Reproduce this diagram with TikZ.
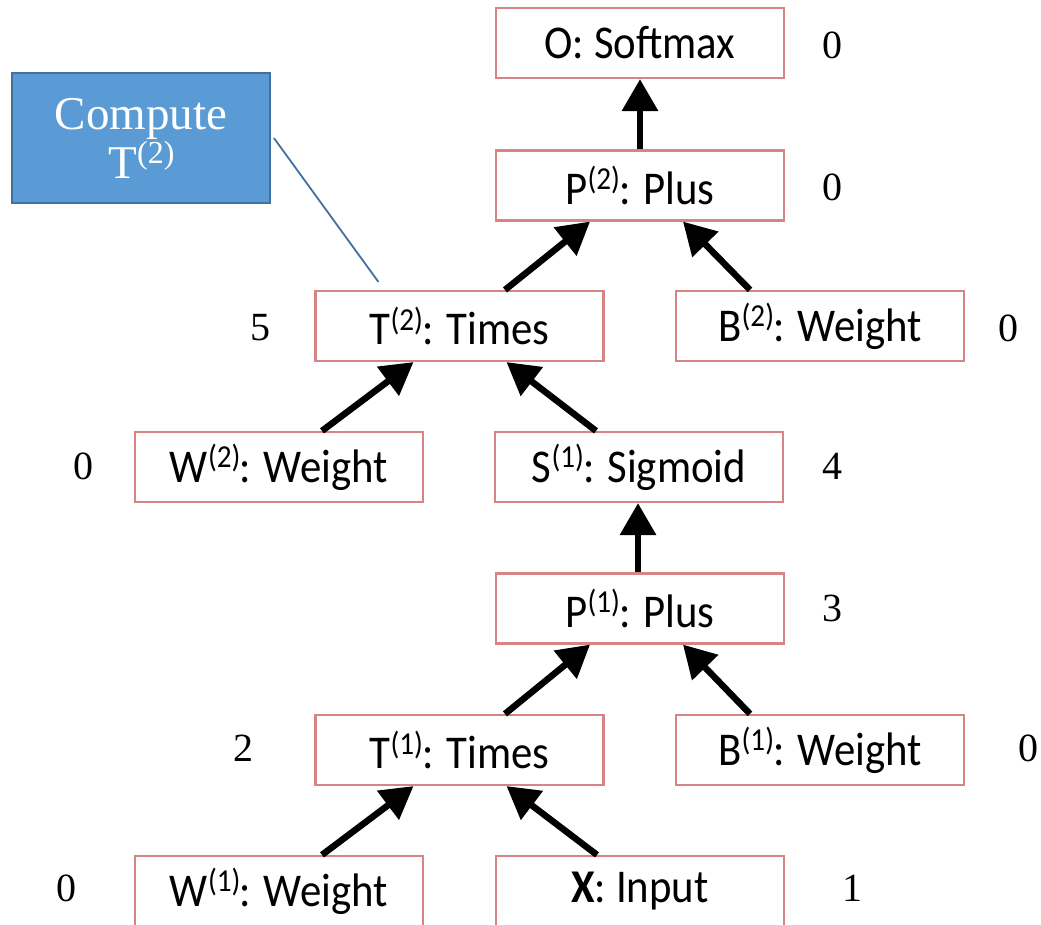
\documentclass[tikz,border=0pt]{standalone}
\usepackage{graphicx}
\usepackage{fontspec}
\setmainfont{Liberation Serif}
\newfontfamily\boxfont{Carlito}
\usetikzlibrary{arrows.meta,calc}
\newcommand\sps[1]{\raisebox{0.66ex}{\fontsize{32}{34}\selectfont #1}\kern-1pt}
\newcommand\bx[1]{\scalebox{0.91}[1]{#1}}
\definecolor{boxred}{RGB}{214,132,132}
\definecolor{callfill}{RGB}{91,155,213}
\definecolor{callline}{RGB}{65,113,156}
\begin{document}
\begin{tikzpicture}[x=1pt,y=-1pt,
  opbox/.style={draw=boxred,line width=2.2pt,fill=white,minimum width=288pt,minimum height=70pt,inner sep=0pt,
    font=\boxfont\fontsize{47}{52}\selectfont},
  num/.style={inner sep=0pt,font=\fontsize{40}{46}\selectfont},
  flow/.style={line width=6.5pt,-{Triangle[width=35pt,length=32pt]}},
  callout/.style={draw=callline,line width=1.8pt,fill=callfill,minimum width=258pt,minimum height=130pt,
    text=white,align=center,font=\fontsize{47}{49}\selectfont,inner sep=0pt},
  callink/.style={draw=callline,line width=1.8pt}]
\useasboundingbox (0,0) rectangle (1041,925);
% nodes
\node[opbox] (O)  at (640,43)    {\bx{O: Softmax}};
\node[opbox] (P2) at (640,185.5) {\bx{P\sps{(2)}: Plus}};
\node[opbox] (T2) at (459.5,326) {\bx{T\sps{(2)}: Times}};
\node[opbox] (B2) at (820,326)   {\bx{B\sps{(2)}: Weight}};
\node[opbox] (W2) at (279,467)   {\bx{W\sps{(2)}: Weight}};
\node[opbox] (S1) at (639,467)   {\bx{S\sps{(1)}: Sigmoid}};
\node[opbox] (P1) at (640,608.5) {\bx{P\sps{(1)}: Plus}};
\node[opbox] (T1) at (459.5,750) {\bx{T\sps{(1)}: Times}};
\node[opbox] (B1) at (820,750)   {\bx{B\sps{(1)}: Weight}};
\node[opbox] (W1) at (279,891)   {\bx{W\sps{(1)}: Weight}};
\node[opbox] (X)  at (640,891)   {\bx{\textbf{X}: Input}};
% numbers
\node[num] (nO)  at (832,45)  {0};
\node[num] (nP2) at (832,187) {0};
\node[num] (nT2) at (260,328) {5};
\node[num] (nB2) at (1008,328) {0};
\node[num] (nW2) at (83,466)  {0};
\node[num] (nS1) at (832,466) {4};
\node[num] (nP1) at (832,608) {3};
\node[num] (nT1) at (243,748) {2};
\node[num] (nB1) at (1028,748) {0};
\node[num] (nW1) at (66,888)  {0};
\node[num] (nX)  at (852,888) {1};
% arrows
\draw[flow] (P2.north) -- (O.south);
\draw[flow] ($(T2.north)+(45.5,0)$) -- ($(P2.south)+(-50,0)$);
\draw[flow] ($(B2.north)+(-70,0)$) -- ($(P2.south)+(43,0)$);
\draw[flow] ($(W2.north)+(43,0)$) -- ($(T2.south)+(-46,0)$);
\draw[flow] ($(S1.north)+(-43,0)$) -- ($(T2.south)+(47,0)$);
\draw[flow] ($(P1.north)+(-2,0)$) -- ($(S1.south)+(-1,0)$);
\draw[flow] ($(T1.north)+(45.5,0)$) -- ($(P1.south)+(-50,0)$);
\draw[flow] ($(B1.north)+(-70,0)$) -- ($(P1.south)+(43,0)$);
\draw[flow] ($(W1.north)+(43,0)$) -- ($(T1.south)+(-46,0)$);
\draw[flow] ($(X.north)+(-43,0)$) -- ($(T1.south)+(47,0)$);
% callout
\node[callout] (C) at (141,138) {Compute\\T\sps{(2)}};
\coordinate (cend) at ($(T2.north west)+(64,-8)$);
\draw[callink] ($(C.east)+(3,0)$) -- (cend);
\end{tikzpicture}
\end{document}
